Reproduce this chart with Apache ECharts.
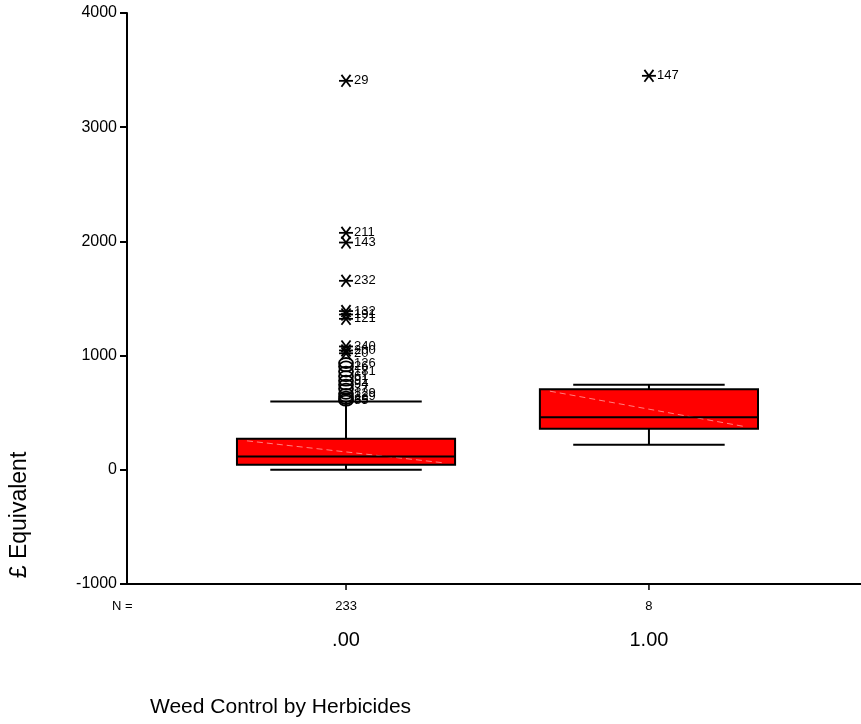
<!DOCTYPE html>
<html>
<head>
<meta charset="utf-8">
<title>Weed Control by Herbicides</title>
<script src="https://cdn.jsdelivr.net/npm/echarts@6/dist/echarts.min.js"></script>
<style>
  html, body { margin: 0; padding: 0; background: #fff; }
  #chart { width: 861px; height: 724px; }
</style>
</head>
<body>
<div id="chart"></div>
<script>
// Group positions on the x scale and their labels
var groupPos = [0, 1];
var groupLabels = ['.00', '1.00'];
var groupCounts = [233, 8];

// Five-number summaries per group: [lower whisker, Q1, median, Q3, upper whisker]
var boxStats = [
  [0, 44, 117, 271, 598],
  [219, 359, 461, 706, 744]
];

// Extreme values (drawn as asterisks)
var extremeGroup = [0, 0, 0, 0, 0, 0, 0, 0, 0, 0, 1];
var extremeValues = [3406, 2075, 1990, 1655, 1390, 1360, 1322, 1080, 1045, 1020, 3450];
var extremeCases = ['29', '211', '143', '232', '132', '191', '121', '240', '200', '20', '147'];

// Outliers (drawn as open circles)
var outlierGroup = [0, 0, 0, 0, 0, 0, 0, 0, 0, 0, 0];
var outlierValues = [935, 905, 860, 820, 780, 745, 710, 665, 640, 620, 605];
var outlierCases = ['126', '26', '181', '61', '91', '94', '37', '129', '229', '39', '85'];

var yTicks = { min: -1000, max: 4000, interval: 1000 };
var fontFamily = '"Liberation Sans", Arial, Helvetica, sans-serif';

var chart = echarts.init(document.getElementById('chart'), null, { renderer: 'canvas' });

var BOX_HALF = 0.36;   // half box width in x units
var CAP_HALF = 0.25;   // half whisker cap width in x units

function renderBox(params, api) {
  var x = api.value(0);
  var lo = api.value(1), q1 = api.value(2), med = api.value(3), q3 = api.value(4), hi = api.value(5);
  var pLoL = api.coord([x - CAP_HALF, lo]);
  var pLoR = api.coord([x + CAP_HALF, lo]);
  var pHiL = api.coord([x - CAP_HALF, hi]);
  var pHiR = api.coord([x + CAP_HALF, hi]);
  var pQ1L = api.coord([x - BOX_HALF, q1]);
  var pQ3R = api.coord([x + BOX_HALF, q3]);
  var pMedL = api.coord([x - BOX_HALF, med]);
  var pMedR = api.coord([x + BOX_HALF, med]);
  var pQ1 = api.coord([x, q1]);
  var pQ3 = api.coord([x, q3]);
  var pLo = api.coord([x, lo]);
  var pHi = api.coord([x, hi]);
  var line = { stroke: '#000', lineWidth: 2 };
  var left = pQ1L[0], right = pQ3R[0], top = pQ3R[1], bottom = pQ1L[1];
  return {
    type: 'group',
    children: [
      { type: 'line', shape: { x1: pLo[0], y1: pLo[1], x2: pQ1[0], y2: pQ1[1] }, style: line },
      { type: 'line', shape: { x1: pHi[0], y1: pHi[1], x2: pQ3[0], y2: pQ3[1] }, style: line },
      { type: 'line', shape: { x1: pLoL[0], y1: pLoL[1], x2: pLoR[0], y2: pLoR[1] }, style: line },
      { type: 'line', shape: { x1: pHiL[0], y1: pHiL[1], x2: pHiR[0], y2: pHiR[1] }, style: line },
      { type: 'rect', shape: { x: left, y: top, width: right - left, height: bottom - top },
        style: { fill: '#ff0000', stroke: '#000', lineWidth: 2 } },
      // faint diagonal sheen across the fill
      { type: 'line', shape: { x1: left + 10, y1: top + 2, x2: right - 12, y2: bottom - 2 },
        style: { stroke: 'rgba(255,150,150,0.85)', lineWidth: 1, lineDash: [6, 4] } },
      { type: 'line', shape: { x1: pMedL[0], y1: pMedL[1], x2: pMedR[0], y2: pMedR[1] }, style: line }
    ]
  };
}

function caseLabel(p, text) {
  return { type: 'text', style: { x: p[0] + 8, y: p[1], text: text, fill: '#000',
    font: '13px ' + fontFamily, textVerticalAlign: 'middle', textAlign: 'left' } };
}

function renderAsterisk(params, api) {
  var p = api.coord([api.value(0), api.value(1)]);
  var r = 7;
  var s = { stroke: '#000', lineWidth: 1.8 };
  return {
    type: 'group',
    children: [
      { type: 'line', shape: { x1: p[0] - r, y1: p[1], x2: p[0] + r, y2: p[1] }, style: s },
      { type: 'line', shape: { x1: p[0] - r * 0.65, y1: p[1] - r * 0.85, x2: p[0] + r * 0.65, y2: p[1] + r * 0.85 }, style: s },
      { type: 'line', shape: { x1: p[0] - r * 0.65, y1: p[1] + r * 0.85, x2: p[0] + r * 0.65, y2: p[1] - r * 0.85 }, style: s },
      caseLabel(p, extremeCases[params.dataIndex])
    ]
  };
}

function renderCircle(params, api) {
  var p = api.coord([api.value(0), api.value(1)]);
  return {
    type: 'group',
    children: [
      { type: 'ellipse', shape: { cx: p[0], cy: p[1], rx: 7, ry: 5 },
        style: { fill: 'none', stroke: '#000', lineWidth: 1.8 } },
      caseLabel(p, outlierCases[params.dataIndex])
    ]
  };
}

// Tick, group size and group label under the x axis
function renderGroupLabel(params, api) {
  var i = params.dataIndex;
  var p = api.coord([api.value(0), yTicks.min]);
  return {
    type: 'group',
    children: [
      { type: 'line', shape: { x1: p[0], y1: p[1], x2: p[0], y2: p[1] + 6 }, style: { stroke: '#000', lineWidth: 1.5 } },
      { type: 'text', style: { x: p[0], y: p[1] + 22, text: String(groupCounts[i]), fill: '#000',
        font: '13px ' + fontFamily, textAlign: 'center', textVerticalAlign: 'middle' } },
      { type: 'text', style: { x: p[0], y: p[1] + 56, text: groupLabels[i], fill: '#000',
        font: '20px ' + fontFamily, textAlign: 'center', textVerticalAlign: 'middle' } }
    ]
  };
}

var boxData = groupPos.map(function (g, i) { return [g].concat(boxStats[i]); });
var labelData = groupPos.map(function (g) { return [g, yTicks.min]; });
var extremeData = extremeValues.map(function (v, i) { return [groupPos[extremeGroup[i]], v]; });
var outlierData = outlierValues.map(function (v, i) { return [groupPos[outlierGroup[i]], v]; });

chart.setOption({
  animation: false,
  backgroundColor: '#fff',
  textStyle: { fontFamily: fontFamily },
  grid: { left: 127, right: 0, top: 13, bottom: 140, containLabel: false },
  xAxis: {
    type: 'value', min: -0.723, max: 1.70,
    splitLine: { show: false },
    axisLine: { show: true, onZero: false, lineStyle: { color: '#000', width: 2 } },
    axisTick: { show: false },
    axisLabel: { show: false }
  },
  yAxis: {
    type: 'value', min: yTicks.min, max: yTicks.max, interval: yTicks.interval,
    splitLine: { show: false },
    axisLine: { show: true, onZero: false, lineStyle: { color: '#000', width: 2 } },
    axisTick: { show: true, length: 7, lineStyle: { color: '#000', width: 2 } },
    axisLabel: { color: '#000', fontSize: 16, margin: 10, fontFamily: fontFamily,
      formatter: function (v) { return String(v); } }
  },
  graphic: [
    { type: 'text', x: 112, y: 606, style: { text: 'N =', font: '13px ' + fontFamily, fill: '#000',
      textVerticalAlign: 'middle' } },
    { type: 'text', x: 150, y: 707, style: { text: 'Weed Control by Herbicides', font: '21px ' + fontFamily,
      fill: '#000', textVerticalAlign: 'middle' } },
    { type: 'text', x: 20, y: 515, rotation: Math.PI / 2,
      style: { text: '£ Equivalent', font: '23px ' + fontFamily, fill: '#000',
        textAlign: 'center', textVerticalAlign: 'middle' } }
  ],
  series: [
    { type: 'custom', name: 'box', renderItem: renderBox, data: boxData, clip: false,
      encode: { x: 0, y: [1, 2, 3, 4, 5] } },
    { type: 'custom', name: 'outliers', renderItem: renderCircle, data: outlierData,
      clip: false, encode: { x: 0, y: 1 } },
    { type: 'custom', name: 'extremes', renderItem: renderAsterisk, data: extremeData,
      clip: false, encode: { x: 0, y: 1 } },
    { type: 'custom', name: 'groups', renderItem: renderGroupLabel, data: labelData, clip: false,
      encode: { x: 0, y: 1 } }
  ]
});
</script>
</body>
</html>
